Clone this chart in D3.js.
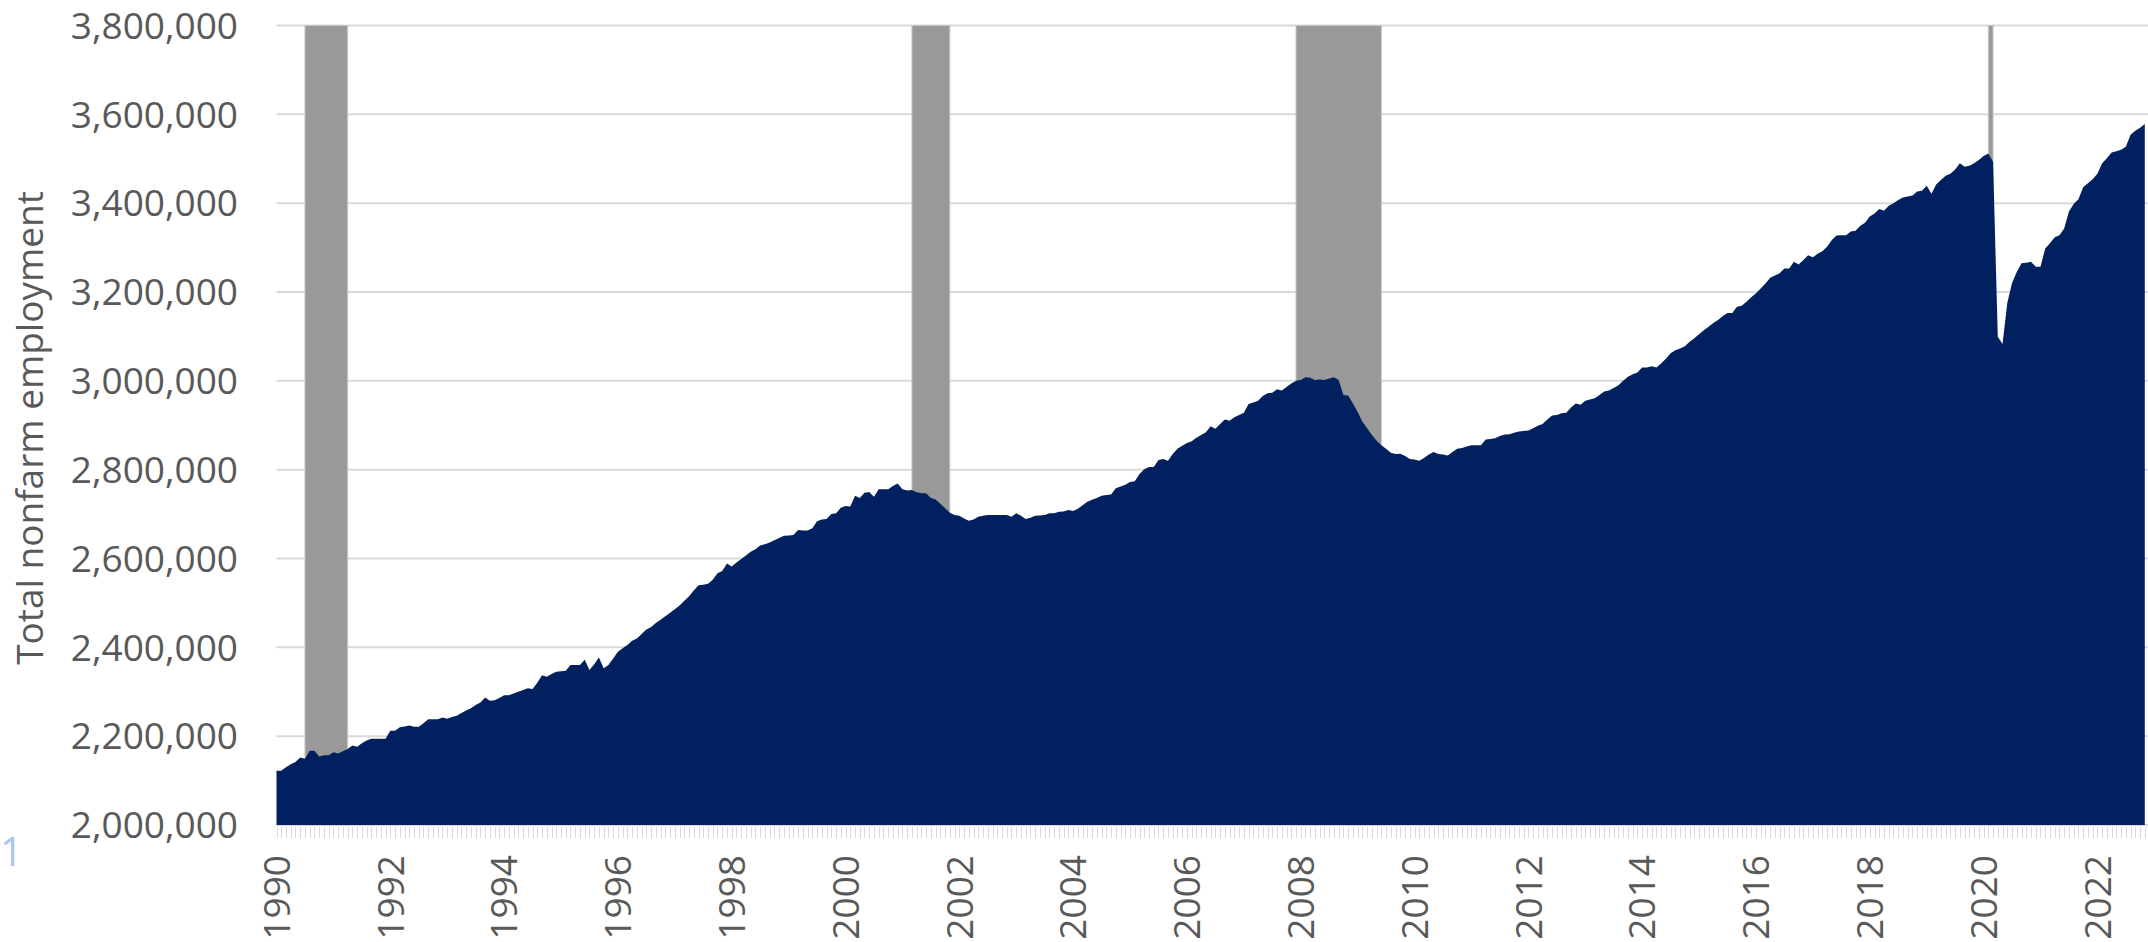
<!DOCTYPE html>
<html lang="en">
<head>
    <meta charset="UTF-8">
    <title>Total nonfarm employment</title>
    <script src="https://d3js.org/d3.v7.min.js"></script>
    <style>
        body { margin: 0; background: #ffffff; }
        svg { display: block; font-family: "Open Sans", sans-serif; }
        .grid line { stroke: #d9d9d9; stroke-width: 2; }
        .recession { fill: #999999; stroke: #c8c8c8; stroke-width: 1; }
        .employment { fill: #002060; }
        .tick-label { fill: #595959; font-size: 37px; }
        .month-tick { stroke: #d9d9d9; stroke-width: 1; }
    </style>
</head>
<body>
<svg id="chart"></svg>
<script>
// Monthly total nonfarm employment, in thousands, Jan 1990 - Nov 2022 (one row per year)
var employmentK = [
    2122, 2122, 2130, 2137, 2142, 2152, 2149, 2167, 2167, 2154, 2157, 2157,  // 1990
    2164, 2161, 2166, 2171, 2179, 2176, 2184, 2190, 2194, 2194, 2194, 2194,  // 1991
    2212, 2212, 2220, 2222, 2224, 2221, 2221, 2229, 2238, 2238, 2238, 2242,  // 1992
    2239, 2243, 2246, 2252, 2258, 2263, 2270, 2276, 2287, 2280, 2281, 2286,  // 1993
    2292, 2292, 2296, 2300, 2304, 2308, 2306, 2320, 2337, 2334, 2340, 2345,  // 1994
    2346, 2347, 2360, 2360, 2360, 2372, 2349, 2362, 2377, 2353, 2360, 2375,  // 1995
    2390, 2398, 2405, 2415, 2420, 2430, 2440, 2446, 2455, 2462, 2470, 2478,  // 1996
    2486, 2494, 2505, 2515, 2528, 2540, 2541, 2543, 2552, 2567, 2572, 2589,  // 1997
    2582, 2591, 2599, 2607, 2615, 2621, 2629, 2632, 2636, 2641, 2646, 2651,  // 1998
    2652, 2653, 2664, 2663, 2663, 2668, 2684, 2688, 2689, 2700, 2702, 2714,  // 1999
    2718, 2717, 2741, 2736, 2748, 2750, 2739, 2756, 2756, 2756, 2763, 2769,  // 2000
    2756, 2753, 2754, 2749, 2747, 2747, 2736, 2733, 2723, 2713, 2703, 2698,  // 2001
    2696, 2690, 2685, 2688, 2694, 2696, 2698, 2698, 2698, 2698, 2698, 2694,  // 2002
    2702, 2696, 2689, 2692, 2696, 2697, 2698, 2702, 2702, 2705, 2706, 2709,  // 2003
    2707, 2712, 2720, 2728, 2732, 2736, 2741, 2743, 2744, 2758, 2762, 2766,  // 2004
    2772, 2774, 2790, 2801, 2806, 2806, 2822, 2824, 2820, 2835, 2847, 2854,  // 2005
    2860, 2864, 2872, 2878, 2884, 2898, 2892, 2903, 2913, 2910, 2918, 2923,  // 2006
    2928, 2948, 2951, 2955, 2966, 2972, 2973, 2981, 2978, 2986, 2994, 3000,  // 2007
    3002, 3008, 3007, 3002, 3003, 3002, 3005, 3008, 3002, 2968, 2967, 2949,  // 2008
    2930, 2908, 2893, 2878, 2865, 2855, 2847, 2838, 2835, 2836, 2831, 2824,  // 2009
    2823, 2820, 2826, 2834, 2840, 2835, 2834, 2832, 2840, 2847, 2849, 2852,  // 2010
    2855, 2855, 2855, 2868, 2869, 2871, 2876, 2879, 2880, 2883, 2886, 2887,  // 2011
    2888, 2893, 2899, 2903, 2913, 2922, 2923, 2927, 2928, 2940, 2949, 2946,  // 2012
    2955, 2958, 2961, 2968, 2976, 2978, 2984, 2990, 3000, 3009, 3015, 3019,  // 2013
    3030, 3030, 3033, 3030, 3039, 3050, 3062, 3069, 3073, 3078, 3088, 3096,  // 2014
    3105, 3114, 3122, 3130, 3137, 3146, 3153, 3153, 3167, 3169, 3178, 3188,  // 2015
    3197, 3208, 3219, 3232, 3237, 3242, 3253, 3253, 3268, 3262, 3272, 3283,  // 2016
    3278, 3286, 3292, 3302, 3317, 3327, 3328, 3328, 3336, 3338, 3349, 3356,  // 2017
    3370, 3377, 3387, 3383, 3394, 3400, 3407, 3413, 3415, 3417, 3426, 3428,  // 2018
    3439, 3421, 3442, 3452, 3462, 3466, 3476, 3490, 3482, 3484, 3490, 3497,  // 2019
    3506, 3512, 3493, 3099, 3083, 3175, 3220, 3245, 3265, 3266, 3268, 3257,  // 2020
    3257, 3298, 3310, 3323, 3328, 3343, 3381, 3398, 3409, 3436, 3445, 3454,  // 2021
    3466, 3490, 3501, 3514, 3517, 3520, 3527, 3554, 3563, 3570, 3578         // 2022
];
var firstMonth = "1990-01";

// Recession periods (first and last shaded month)
var recessionStart = ["1990-07", "2001-03", "2007-12", "2020-02"];
var recessionEnd   = ["1991-03", "2001-10", "2009-05", "2020-02"];

// Axis ticks
var yTicks = [2000000, 2200000, 2400000, 2600000, 2800000, 3000000, 3200000, 3400000, 3600000, 3800000];
var xTickLabels = ["1990", "1992", "1994", "1996", "1998", "2000", "2002", "2004", "2006", "2008",
                   "2010", "2012", "2014", "2016", "2018", "2020", "2022"];

// Canvas
var svgWidth = 2148;
var svgHeight = 942;
var plotLeft = 276.5;
var plotRight = 2144.8;
var plotTop = 25.5;
var plotBottom = 825;

var parseMonth = d3.timeParse("%Y-%m");
var start = parseMonth(firstMonth);
function monthIndex(s) { return d3.timeMonth.count(start, parseMonth(s)); }

var data = employmentK.map(function(v, i) { return {i: i, value: v * 1000}; });
var n = data.length;

var svg = d3.select("#chart")
    .attr("width", svgWidth)
    .attr("height", svgHeight);

var xs = d3.scaleLinear().domain([0, n - 1]).range([plotLeft, plotRight]);
var ys = d3.scaleLinear().domain([2000000, 3800000]).range([plotBottom, plotTop]);

// horizontal gridlines
svg.append("g")
    .attr("class", "grid")
    .selectAll("line")
    .data(yTicks)
    .enter()
    .append("line")
        .attr("x1", plotLeft)
        .attr("x2", svgWidth)
        .attr("y1", function(d) { return ys(d); })
        .attr("y2", function(d) { return ys(d); });

// recession shading
svg.append("g")
    .selectAll("rect")
    .data(recessionStart)
    .enter()
    .append("rect")
        .attr("class", "recession")
        .attr("x", function(d) { return xs(monthIndex(d)); })
        .attr("width", function(d, k) { return xs(monthIndex(recessionEnd[k]) + 1) - xs(monthIndex(d)); })
        .attr("y", ys(3800000))
        .attr("height", ys(2000000) - ys(3800000));

// employment area
var area = d3.area()
    .x(function(d) { return xs(d.i); })
    .y0(ys(2000000))
    .y1(function(d) { return ys(d.value); });

svg.append("path")
    .datum(data)
    .attr("class", "employment")
    .attr("d", area);

// y axis labels
svg.append("g")
    .selectAll("text")
    .data(yTicks)
    .enter()
    .append("text")
        .attr("class", "tick-label")
        .attr("x", 238)
        .attr("y", function(d) { return ys(d); })
        .attr("dy", "0.36em")
        .attr("text-anchor", "end")
        .text(d3.format(","));

// monthly tick marks below the axis
svg.append("g")
    .selectAll("line")
    .data(d3.range(n))
    .enter()
    .append("line")
        .attr("class", "month-tick")
        .attr("x1", function(d) { return Math.round(xs(d)) + 0.5; })
        .attr("x2", function(d) { return Math.round(xs(d)) + 0.5; })
        .attr("y1", plotBottom + 2)
        .attr("y2", plotBottom + 13);

// year labels every two years, rotated
svg.append("g")
    .selectAll("text")
    .data(xTickLabels)
    .enter()
    .append("text")
        .attr("class", "tick-label")
        .attr("text-anchor", "end")
        .attr("dy", "0.36em")
        .attr("transform", function(d) {
            var x = xs(monthIndex(d + "-01"));
            return "translate(" + x + "," + 855 + ") rotate(-90)";
        })
        .text(function(d) { return d; });

// y axis title
svg.append("text")
    .attr("class", "tick-label")
    .attr("text-anchor", "middle")
    .attr("transform", "translate(30," + 428 + ") rotate(-90)")
    .attr("dy", "0.36em")
    .text("Total nonfarm employment");

// stray label at the left edge
svg.append("text")
    .attr("x", 0)
    .attr("y", 866)
    .style("font-size", "40px")
    .style("fill", "#a9c6ef")
    .text("1");
</script>
</body>
</html>
